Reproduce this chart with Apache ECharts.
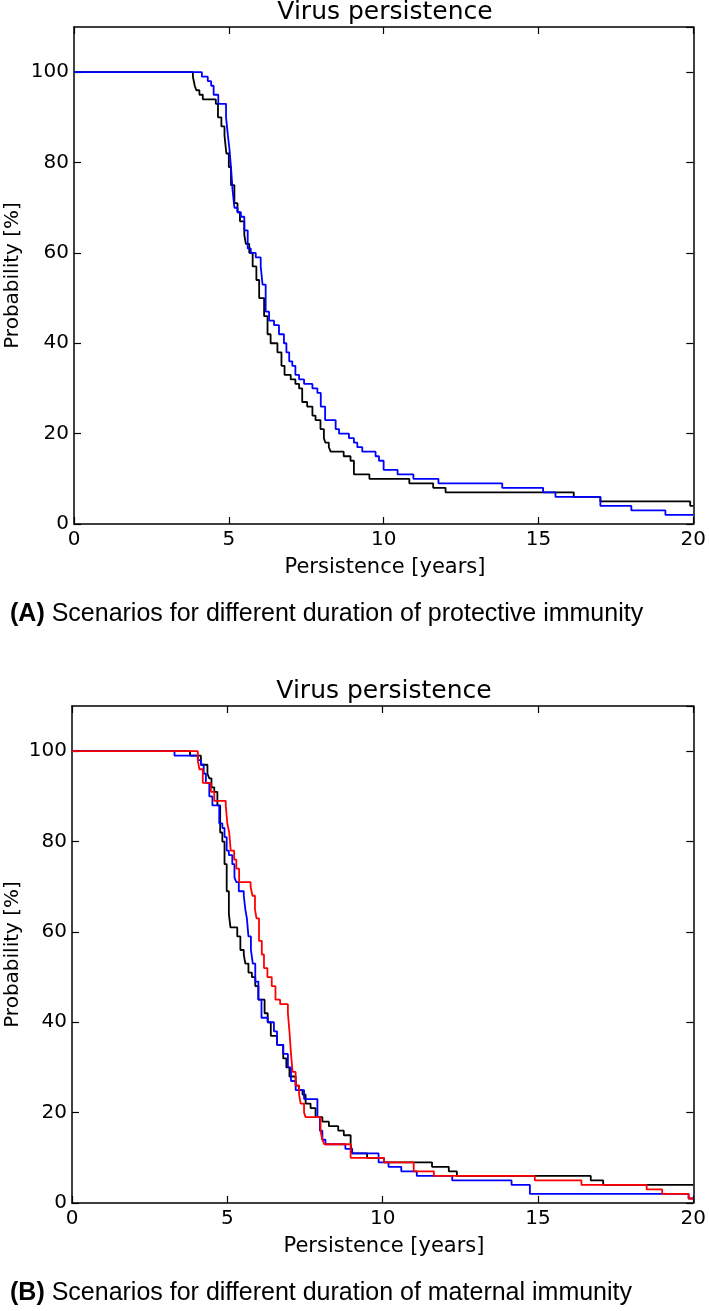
<!DOCTYPE html>
<html>
<head>
<meta charset="utf-8">
<script src="https://cdn.jsdelivr.net/npm/echarts@6/dist/echarts.min.js"></script>
<style>html,body{margin:0;padding:0;background:#fff}#c{width:709px;height:1311px}</style>
</head>
<body>
<div id="c"></div>
<script>
// ---- Data (years, probability %) ----
const xTicks = [0, 5, 10, 15, 20];
const yTicks = [0, 20, 40, 60, 80, 100];

// Panel A
const aBlackX = [0, 3.84, 3.9, 3.95, 4.05, 4.16, 4.58, 4.65, 4.76, 4.86, 4.92, 5.0, 5.07, 5.18, 5.28, 5.36, 5.5, 5.55, 5.66, 5.77, 5.89, 5.98, 6.14, 6.25, 6.35, 6.57, 6.7, 6.8, 7.0, 7.15, 7.27, 7.37, 7.53, 7.7, 7.8, 7.96, 8.07, 8.12, 8.23, 8.29, 8.71, 8.93, 9.04, 9.54, 10.83, 11.6, 12.0, 16.14, 17.0, 19.9, 20];
const aBlackY = [100, 99, 97, 96, 95, 94, 93, 90, 88, 86, 82, 79, 75, 71, 69, 67, 64, 62, 60, 57, 54, 50, 46, 42, 40, 38, 35, 33, 32, 31, 30, 27, 26, 24, 23, 21, 19, 18, 17, 16, 15, 14, 11, 10, 9, 8, 7, 6, 5, 4, 4];
const aBlueX = [0, 4.13, 4.32, 4.43, 4.51, 4.66, 4.91, 4.97, 5.02, 5.07, 5.12, 5.18, 5.28, 5.39, 5.5, 5.61, 5.71, 5.87, 6.03, 6.09, 6.19, 6.3, 6.46, 6.62, 6.78, 6.86, 6.95, 7.05, 7.15, 7.27, 7.43, 7.7, 7.86, 7.97, 8.11, 8.45, 8.56, 8.88, 9.04, 9.15, 9.31, 9.74, 9.85, 10.0, 10.45, 10.96, 11.77, 13.83, 15.15, 15.55, 17.0, 18.0, 19.1, 20];
const aBlueY = [100, 99, 98, 97, 95, 93, 90, 86, 83, 79, 74, 70, 69, 68, 65, 61, 60, 59, 57, 53, 47, 45, 44, 42, 40, 38, 36, 35, 33, 32, 31, 30, 29, 26, 23, 21, 20, 19, 18, 17, 16, 15, 14, 12, 11, 10, 9, 8, 7, 6, 4, 3, 2, 2];

// Panel B
const bBlackX = [0, 3.8, 4.15, 4.36, 4.42, 4.49, 4.58, 4.68, 4.77, 4.84, 4.91, 4.98, 5.05, 5.1, 5.32, 5.42, 5.53, 5.58, 5.68, 5.79, 5.9, 6.0, 6.2, 6.3, 6.4, 6.6, 6.8, 6.9, 7.0, 7.2, 7.31, 7.42, 7.52, 7.68, 7.84, 8.06, 8.27, 8.57, 8.75, 8.97, 9.02, 9.5, 10.04, 11.59, 12.13, 12.39, 16.7, 17.1, 20];
const bBlackY = [100, 99, 97, 95, 94, 92, 91, 88, 82, 80, 75, 69, 64, 61, 59, 56, 55, 53, 51, 50, 48, 45, 42, 40, 37, 35, 32, 30, 28, 26, 25, 24, 22, 21, 19, 18, 17, 16, 15, 13, 11, 10, 9, 8, 7, 6, 5, 4, 4];
const bBlueX = [0, 3.3, 4.05, 4.15, 4.24, 4.31, 4.42, 4.52, 4.74, 4.84, 4.91, 4.98, 5.05, 5.16, 5.23, 5.29, 5.37, 5.53, 5.58, 5.63, 5.68, 5.76, 5.82, 5.9, 6.0, 6.1, 6.3, 6.5, 6.6, 6.8, 6.95, 7.05, 7.2, 7.47, 7.9, 7.98, 8.06, 8.16, 8.8, 9.02, 9.87, 10.19, 10.6, 11.1, 12.24, 14.15, 14.74, 19.85, 20];
const bBlueY = [100, 99, 98, 97, 95, 93, 90, 88, 84, 83, 81, 78, 77, 75, 72, 71, 69, 68, 65, 63, 59, 56, 53, 49, 45, 41, 40, 38, 35, 33, 30, 27, 25, 23, 19, 16, 14, 13, 12, 11, 9, 8, 7, 6, 5, 4, 2, 1, 1];
const bRedX = [0, 4.05, 4.1, 4.21, 4.47, 4.58, 4.95, 5.0, 5.06, 5.11, 5.22, 5.29, 5.38, 5.75, 5.81, 5.89, 5.94, 6.02, 6.11, 6.18, 6.29, 6.43, 6.55, 6.7, 6.95, 7.0, 7.05, 7.1, 7.2, 7.31, 7.36, 7.47, 7.52, 8.0, 8.06, 8.12, 8.97, 10.04, 11.0, 11.65, 14.9, 16.4, 18.5, 19.0, 19.85, 20];
const bRedY = [100, 98, 96, 93, 91, 89, 88, 84, 82, 78, 76, 74, 71, 70, 68, 65, 63, 58, 55, 52, 50, 48, 45, 44, 42, 38, 33, 29, 26, 24, 22, 20, 19, 16, 14, 13, 10, 9, 7, 6, 5, 4, 3, 2, 1, 1];

const titleText = 'Virus persistence';
const xName = 'Persistence [years]';
const yName = 'Probability [%]';
const captionA = ['(A)', ' Scenarios for different duration of protective immunity'];
const captionB = ['(B)', ' Scenarios for different duration of maternal immunity'];

// ---- Layout ----
const FONT = '"DejaVu Sans", sans-serif';
const CAPFONT = '"Liberation Sans", Arial, sans-serif';
const panels = [
  { left: 74, top: 27, width: 622, height: 497 },
  { left: 72, top: 706, width: 624, height: 497 }
];

function zip(xs, ys) { return xs.map((x, i) => [x, ys[i]]); }

const xAxes = [], yAxes = [], grids = [];
panels.forEach((p, gi) => {
  grids.push({ left: p.left, top: p.top, width: p.width, height: p.height, containLabel: false });
  const common = { gridIndex: gi, type: 'value', splitLine: { show: false },
    axisLine: { show: true, onZero: false, lineStyle: { color: '#000', width: 1.5 } },
    axisTick: { show: true, inside: true, length: 7, lineStyle: { color: '#000', width: 1.2 } } };
  xAxes.push(Object.assign({}, common, { position: 'bottom', min: xTicks[0], max: xTicks[xTicks.length - 1], interval: 5,
    axisLabel: { show: true, color: '#000', fontSize: 20, fontFamily: FONT, margin: 6 } }));
  xAxes.push(Object.assign({}, common, { position: 'top', min: xTicks[0], max: xTicks[xTicks.length - 1], interval: 5,
    axisLabel: { show: false } }));
  yAxes.push(Object.assign({}, common, { position: 'left', min: 0, max: 110, interval: 20,
    axisLabel: { show: true, color: '#000', fontSize: 20, fontFamily: FONT, margin: 5, showMaxLabel: false,
      formatter: v => (yTicks.indexOf(v) >= 0 ? String(v) : '') } }));
  yAxes.push(Object.assign({}, common, { position: 'right', min: 0, max: 110, interval: 20,
    axisLabel: { show: false } }));
});

function line(data, color, gi) {
  return { type: 'line', step: 'end', xAxisIndex: gi * 2, yAxisIndex: gi * 2, data: data,
    showSymbol: false, symbol: 'none', silent: true, animation: false,
    lineStyle: { color: color, width: 1.8 } };
}

const series = [
  line(zip(aBlackX, aBlackY), '#000000', 0),
  line(zip(aBlueX, aBlueY), '#0000ff', 0),
  line(zip(bBlackX, bBlackY), '#000000', 1),
  line(zip(bBlueX, bBlueY), '#0000ff', 1),
  line(zip(bRedX, bRedY), '#ff0000', 1)
];

const graphics = [];
panels.forEach((p, gi) => {
  const cx = p.left + p.width / 2;
  const cy = p.top + p.height / 2;
  const bottom = p.top + p.height;
  graphics.push({ type: 'text', x: cx, y: p.top - 15, style: { text: titleText, fontSize: 25, fontFamily: FONT, fill: '#000', align: 'center', verticalAlign: 'middle' } });
  graphics.push({ type: 'text', x: cx, y: bottom + 44, style: { text: xName, fontSize: 21, fontFamily: FONT, fill: '#000', align: 'center', verticalAlign: 'middle' } });
  graphics.push({ type: 'text', x: 13, y: cy, rotation: Math.PI / 2, style: { text: yName, fontSize: 20, fontFamily: FONT, fill: '#000', align: 'center', verticalAlign: 'middle' } });
  const cap = gi === 0 ? captionA : captionB;
  graphics.push({ type: 'text', x: 10, y: bottom + 90, style: { text: '{b|' + cap[0] + '}{r|' + cap[1] + '}', fontSize: 25, fontFamily: CAPFONT, fill: '#000', align: 'left', verticalAlign: 'middle',
    rich: { b: { fontWeight: 'bold', fontSize: 25, fontFamily: CAPFONT, fill: '#000' }, r: { fontSize: 25, fontFamily: CAPFONT, fill: '#000' } } } });
});

const chart = echarts.init(document.getElementById('c'), null, { renderer: 'canvas' });
chart.setOption({
  animation: false,
  backgroundColor: '#fff',
  grid: grids,
  xAxis: xAxes,
  yAxis: yAxes,
  series: series,
  graphic: graphics
});
</script>
</body>
</html>
